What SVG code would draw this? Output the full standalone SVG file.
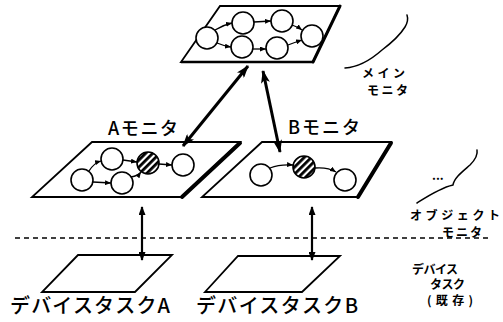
<svg xmlns="http://www.w3.org/2000/svg" width="503" height="322" viewBox="0 0 503 322">
<defs>
<style>
.pl{fill:#fff;stroke:#000;stroke-width:1.8;stroke-linejoin:miter}
.sh{fill:none;stroke:#000;stroke-width:4;stroke-linecap:round}
.c{fill:#fff;stroke:#000;stroke-width:1.6}
.h{fill:url(#hatch);stroke:#000;stroke-width:1.6}
.e{fill:none;stroke:#000;stroke-width:1.3;marker-end:url(#sm)}
.big{fill:none;stroke:#000;stroke-width:3;marker-start:url(#bh);marker-end:url(#bh)}
.vert{fill:none;stroke:#000;stroke-width:2.2;marker-start:url(#vh);marker-end:url(#vh)}
.br{fill:none;stroke:#000;stroke-width:1.5;stroke-linecap:round}
.t{font-family:"Noto Sans CJK JP","Noto Sans",sans-serif;fill:#000}
.lbl{font-size:18px;font-weight:500}
.dev{font-size:20px;font-weight:500}
.side{font-size:12px;font-weight:700}
</style>
<pattern id="hatch" patternUnits="userSpaceOnUse" width="5" height="5" patternTransform="rotate(-45)">
<rect width="5" height="5" fill="#fff"/>
<rect width="5" height="2.8" fill="#000"/>
</pattern>
<marker id="sm" markerUnits="userSpaceOnUse" markerWidth="6" markerHeight="5" refX="6" refY="2.5" orient="auto">
<path d="M0,0 L6,2.5 L0,5 z" fill="#000"/>
</marker>
<marker id="bh" markerUnits="userSpaceOnUse" markerWidth="13" markerHeight="9" refX="12" refY="4.5" orient="auto-start-reverse">
<path d="M0,0 L13,4.5 L0,9 L3,4.5 z" fill="#000"/>
</marker>
<marker id="vh" markerUnits="userSpaceOnUse" markerWidth="9" markerHeight="7" refX="8" refY="3.5" orient="auto-start-reverse">
<path d="M0,0 L9,3.5 L0,7 z" fill="#000"/>
</marker>
</defs>
<rect width="503" height="322" fill="#fff"/>

<g id="main-monitor">
<path class="pl" d="M220,6 L340,6 L313,62 L181,62 Z"/>
<path class="sh" d="M340,6 L313,62" style="stroke-width:3"/>
<path d="M181,62 L313,62" stroke="#000" stroke-width="2.4"/>
<circle class="c" cx="207" cy="38" r="11"/>
<circle class="c" cx="243" cy="23" r="11"/>
<circle class="c" cx="282" cy="21" r="11"/>
<circle class="c" cx="312" cy="36" r="11"/>
<circle class="c" cx="242" cy="47" r="11"/>
<circle class="c" cx="277" cy="48" r="11"/>
<path class="e" d="M215,30 Q223,25 232,23"/>
<path class="e" d="M254,22 L271,21"/>
<path class="e" d="M292,25 Q298,27 302,30"/>
<path class="e" d="M217,43 Q224,46 231,47"/>
<path class="e" d="M253,49 L266,49"/>
<path class="e" d="M288,45 Q296,42 302,40"/>
</g>

<g id="a-monitor">
<path class="pl" d="M92,142 L240,142 L182,197 L32,197 Z"/>
<path class="sh" d="M240,143 L182,197"/>
<circle class="c" cx="82" cy="180" r="11"/>
<circle class="c" cx="112" cy="159" r="11"/>
<circle class="h" cx="148" cy="163" r="11"/>
<circle class="c" cx="183" cy="165" r="11"/>
<circle class="c" cx="122" cy="183" r="11"/>
<path class="e" d="M89,171 Q94,163 101,161"/>
<path class="e" d="M123,160 L137,162"/>
<path class="e" d="M159,164 L172,165"/>
<path class="e" d="M93,182 L111,183"/>
<path class="e" d="M131,177 Q138,176 141,172"/>
<text class="t lbl" x="108" y="135" textLength="70" lengthAdjust="spacing">Aモニタ</text>
</g>

<g id="b-monitor">
<path class="pl" d="M262,142 L391,142 L358,197 L202,197 Z"/>
<path class="sh" d="M391,143 L358,197"/>
<circle class="c" cx="261" cy="175" r="11"/>
<circle class="h" cx="304" cy="167" r="11"/>
<circle class="c" cx="345" cy="180" r="11"/>
<path class="e" d="M270,168 Q280,164 293,165"/>
<path class="e" d="M315,168 Q328,167 336,172"/>
<text class="t lbl" x="288" y="134" textLength="72" lengthAdjust="spacing">Bモニタ</text>
</g>

<g id="device-task-a">
<path class="pl" d="M78,255 L172,255 L135,292 L42,292 Z"/>
<text class="t dev" x="10" y="313" textLength="160" lengthAdjust="spacing">デバイスタスクA</text>
</g>

<g id="device-task-b">
<path class="pl" d="M238,256 L340,256 L302,292 L205,292 Z"/>
<text class="t dev" x="196" y="313" textLength="162" lengthAdjust="spacing">デバイスタスクB</text>
</g>

<g id="connectors">
<path class="big" d="M248,66 L183,146"/>
<path class="big" d="M263,71 L280,152"/>
<path class="vert" d="M142,207 L142,260"/>
<path class="vert" d="M312,207 L312,260"/>
</g>

<g id="separator">
<path d="M15,238 L490,238" stroke="#000" stroke-width="1.5" stroke-dasharray="5,4"/>
</g>

<g id="legend-main">
<path class="br" d="M345,68 C360,67 373,58 382,50 C390,44 400,35 405,27 C408,22 408,18 407,15"/>
<text class="t side" x="362" y="78" textLength="43" lengthAdjust="spacing">メイン</text>
<text class="t side" x="367" y="95" textLength="41" lengthAdjust="spacing">モニタ</text>
</g>

<g id="legend-object">
<path class="br" d="M417,203 C428,196 440,188 453,185 C454,178 462,172 470,165 C476,159 478,155 477,150"/>
<text class="t side" x="432" y="180">...</text>
<text class="t side" x="410" y="220" textLength="90" lengthAdjust="spacing">オブジェクト</text>
<text class="t side" x="442" y="237" textLength="40" lengthAdjust="spacing">モニタ</text>
</g>

<g id="legend-device">
<text class="t side" x="412" y="274" textLength="46" lengthAdjust="spacing">デバイス</text>
<text class="t side" x="430" y="289" textLength="35" lengthAdjust="spacing">タスク</text>
<text class="t side" x="427" y="305" textLength="46" lengthAdjust="spacing">(既存)</text>
</g>
</svg>
